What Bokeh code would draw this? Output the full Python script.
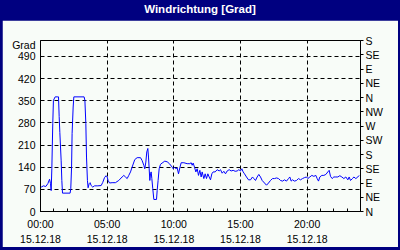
from bokeh.plotting import figure
from bokeh.models import Range1d, LinearAxis, FixedTicker, Div, Spacer
from bokeh.layouts import column, row
from bokeh.embed import file_html
from bokeh.resources import INLINE

# ---- data (hours since 00:00 on 15.12.18, wind direction in degrees) ----
hours = [0.05, 0.22, 0.4, 0.55, 0.68, 0.75, 0.8, 0.85, 0.92, 0.97, 1.1, 1.3, 1.35, 1.4, 1.45,
         1.55, 1.6, 1.65, 2.22, 2.27, 2.33, 2.37, 2.45, 2.5, 3.27, 3.33, 3.4, 3.45, 3.52, 3.57,
         3.65, 3.72, 3.8, 3.92, 4.05, 4.3, 4.55, 4.67, 4.8, 4.92, 5.0, 5.07, 5.18, 5.37, 5.62,
         5.87, 6.12, 6.25, 6.37, 6.5, 6.62, 6.75, 6.87, 7.07, 7.25, 7.5, 7.62, 7.75, 7.82, 7.9,
         7.97, 8.05, 8.1, 8.15, 8.2, 8.25, 8.3, 8.35, 8.42, 8.5, 8.7, 8.75, 8.82, 8.9, 9.0,
         9.12, 9.32, 9.5, 9.67, 9.875, 9.95, 10.05, 10.15, 10.25, 10.35, 10.45, 10.55, 10.75,
         11.0, 11.2, 11.3, 11.375, 11.45, 11.55, 11.65, 11.75, 11.85, 11.95, 12.05, 12.125,
         12.25, 12.35, 12.45, 12.55, 12.65, 12.75, 12.85, 12.95, 13.1, 13.25, 13.4, 13.5,
         13.625, 13.75, 13.875, 14.0, 14.15, 14.3, 14.45, 14.6, 14.75, 14.875, 15.0, 15.1,
         15.2, 15.3, 15.45, 15.6, 15.75, 15.9, 16.0, 16.125, 16.25, 16.375, 16.5, 16.625,
         16.8, 16.95, 17.1, 17.25, 17.4, 17.55, 17.7, 17.85, 18.0, 18.15, 18.3, 18.45, 18.6,
         18.7, 18.8, 18.9, 19.05, 19.2, 19.35, 19.5, 19.65, 19.8, 19.95, 20.05, 20.2, 20.35,
         20.5, 20.65, 20.75, 20.85, 20.95, 21.1, 21.25, 21.4, 21.55, 21.65, 21.75, 21.875,
         22.0, 22.15, 22.3, 22.45, 22.6, 22.75, 22.9, 23.05, 23.15, 23.25, 23.4, 23.5, 23.65,
         23.8, 23.9]
degrees = [77, 81, 79, 88, 102, 88, 66, 135, 278, 351, 362, 362, 362, 300, 250,
           160, 98, 58, 58, 72, 140, 246, 330, 362, 362, 351, 278, 172, 98, 75,
           88, 91, 82, 77, 81, 81, 82, 92, 107, 113, 109, 98, 90, 91, 91,
           98, 109, 114, 109, 104, 114, 125, 140, 164, 170, 170, 161, 146, 135, 156,
           188, 199, 172, 135, 98, 119, 125, 104, 72, 38, 38, 66, 98, 135, 149,
           153, 159, 157, 151, 140, 135, 140, 135, 138, 119, 138, 154, 154,
           151, 151, 154, 146, 153, 140, 125, 135, 114, 130, 109, 125,
           104, 119, 104, 119, 109, 100, 119, 125, 125, 132, 128, 132,
           121, 127, 119, 128, 132, 128, 130, 127, 128, 132, 128, 135,
           125, 119, 109, 100, 100, 109, 104, 98, 109, 117, 109, 98,
           90, 83, 90, 98, 104, 104, 106, 104, 98, 96, 100, 96, 104,
           109, 96, 100, 96, 98, 104, 100, 104, 107, 109, 104, 109, 114,
           111, 114, 104, 96, 109, 114, 114, 117, 125, 130, 111, 104,
           109, 109, 109, 113, 109, 104, 109, 100, 109, 98, 104, 109, 104,
           109, 114]

x_ticks = [0, 5, 10, 15, 20]
x_tick_labels = ["00:00\n15.12.18", "05:00\n15.12.18", "10:00\n15.12.18",
                 "15:00\n15.12.18", "20:00\n15.12.18"]
y_ticks = [0, 70, 140, 210, 280, 350, 420, 490]
unit_tick = 526
unit_text = "Grad"
dir_ticks = [0, 45, 90, 135, 180, 225, 270, 315, 360, 405, 450, 495, 540]
dir_labels = ["N", "NE", "E", "SE", "S", "SW", "W", "NW", "N", "NE", "E", "SE", "S"]
title_text = "Windrichtung [Grad]"

FONT = "Liberation Sans"
NAVY = "#000080"
BG = "#F8FCF8"

p = figure(width=396, height=227, frame_width=320, frame_height=171,
           min_border_left=38, min_border_right=38, min_border_top=20, min_border_bottom=36,
           x_range=Range1d(0, 24), y_range=Range1d(0, 540),
           output_backend="svg", toolbar_location=None,
           x_axis_location=None, y_axis_location=None)
p.background_fill_color = BG
p.border_fill_color = BG
p.outline_line_color = "black"
p.outline_line_width = 1

p.extra_y_ranges = {"dir": Range1d(0, 540)}

# bottom axis
xa = LinearAxis(ticker=FixedTicker(ticks=x_ticks, minor_ticks=list(range(0, 25))),
                major_label_overrides={t: l for t, l in zip(x_ticks, x_tick_labels)})
xa.major_tick_in = 3
xa.major_tick_out = 0
xa.minor_tick_in = 3
xa.minor_tick_out = 0
xa.major_label_standoff = 6
xa.major_label_text_font = FONT
xa.major_label_text_font_size = "10.5px"
xa.major_label_text_line_height = 1.25
xa.major_label_text_color = "black"
xa.axis_line_color = "black"
p.add_layout(xa, "below")

# left axis (with the unit shown as the top label)
left_overrides = {t: str(t) for t in y_ticks}
left_overrides[unit_tick] = unit_text
ya = LinearAxis(ticker=FixedTicker(ticks=y_ticks + [unit_tick]),
                major_label_overrides=left_overrides)
ya.major_tick_in = 0
ya.major_tick_out = 0
ya.minor_tick_line_color = None
ya.major_label_standoff = 5
ya.major_label_text_font = FONT
ya.major_label_text_font_size = "10.5px"
ya.major_label_text_color = "black"
p.add_layout(ya, "left")

# right axis (compass directions)
ra = LinearAxis(y_range_name="dir", ticker=FixedTicker(ticks=dir_ticks),
                major_label_overrides={t: l for t, l in zip(dir_ticks, dir_labels)})
ra.major_tick_in = 0
ra.major_tick_out = 3
ra.minor_tick_line_color = None
ra.major_label_standoff = 2
ra.major_label_text_font = FONT
ra.major_label_text_font_size = "10.5px"
ra.major_label_text_color = "black"
p.add_layout(ra, "right")

# grids
p.xgrid.ticker = FixedTicker(ticks=[5, 10, 15, 20])
p.ygrid.ticker = FixedTicker(ticks=y_ticks[1:])
for g in (p.xgrid, p.ygrid):
    g.grid_line_color = "black"
    g.grid_line_dash = "4 3"
    g.grid_line_width = 1

# data line
p.line(hours, degrees, line_color="#0000FF", line_width=1)

title = Div(text=title_text, width=400, height=20, margin=0,
            styles={"background-color": NAVY, "color": "white", "font-weight": "bold",
                    "font-family": FONT, "font-size": "11.5px", "text-align": "center",
                    "line-height": "19px", "overflow": "hidden"})

navy = {"background-color": NAVY}
layout = column(
    title,
    row(Spacer(width=2, height=227, styles=navy), p, Spacer(width=2, height=227, styles=navy)),
    Spacer(width=400, height=3, styles=navy),
    styles=navy,
)

open("out.html", "w").write(file_html(layout, INLINE))
